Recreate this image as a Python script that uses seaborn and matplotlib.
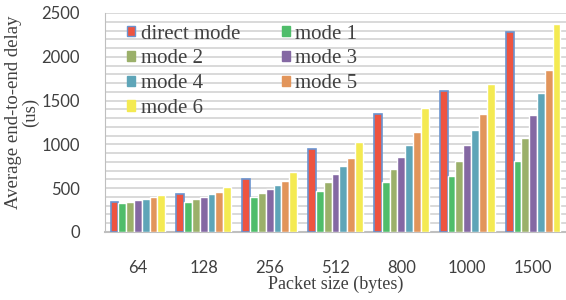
import numpy as np
import pandas as pd
import seaborn as sns
from matplotlib import pyplot as plt
from matplotlib.patches import Patch

# data
sizes = ['64', '128', '256', '512', '800', '1000', '1500']
modes = ['direct mode', 'mode 1', 'mode 2', 'mode 3', 'mode 4', 'mode 5', 'mode 6']
direct_mode = [345, 436, 607, 952, 1343, 1608, 2280]
mode_1 = [330, 341, 394, 470, 573, 644, 811]
mode_2 = [345, 376, 444, 569, 717, 811, 1077]
mode_3 = [360, 402, 490, 660, 854, 990, 1335]
mode_4 = [376, 432, 542, 755, 994, 1165, 1586]
mode_5 = [398, 459, 584, 846, 1138, 1343, 1851]
mode_6 = [425, 512, 686, 1032, 1419, 1688, 2371]

colors = ['#EE5440', '#4FBD6A', '#9BB06A', '#8468A3', '#5EA5B8', '#E2955B', '#F4EA52']

series = [direct_mode, mode_1, mode_2, mode_3, mode_4, mode_5, mode_6]
df = pd.DataFrame({
    'size': np.tile(sizes, len(modes)),
    'mode': np.repeat(modes, len(sizes)),
    'delay': np.concatenate(series),
})

sns.set_style('white')
plt.rcParams['font.family'] = ['Liberation Serif', 'DejaVu Serif']

fig = plt.figure(figsize=(5.66, 3.0), dpi=100)
ax = fig.add_axes([0.1855, 0.2267, 0.8145, 0.73])

sns.barplot(data=df, x='size', y='delay', hue='mode', order=sizes, hue_order=modes,
            palette=colors, width=0.83, saturation=1, legend=False, ax=ax, zorder=3)

# direct mode bars get the blue outline
for bar in ax.containers[0]:
    bar.set_edgecolor('#6A93CF')
    bar.set_linewidth(1.2)

ax.set_ylim(0, 2500)
ax.set_xlim(-0.5, 6.5)
ax.set_yticks(np.arange(0, 2501, 500))
ax.set_yticks(np.arange(0, 2501, 100), minor=True)
ax.grid(axis='y', which='both', color='#D3D3D3', linewidth=1.2, zorder=0)
ax.set_axisbelow(True)

for s in ['top', 'right']:
    ax.spines[s].set_visible(False)
ax.spines['left'].set_color('#BFBFBF')
ax.spines['bottom'].set_color('#BFBFBF')
ax.spines['bottom'].set_linewidth(1.5)

ax.tick_params(axis='y', which='major', length=5, color='#BFBFBF', pad=13)
ax.tick_params(axis='y', which='minor', length=0)
ax.tick_params(axis='x', length=0, pad=20)
for lab in ax.get_xticklabels() + ax.get_yticklabels():
    lab.set_fontfamily('Lato')
    lab.set_fontsize(12)
    lab.set_color('#404040')

ax.set_xlabel('Packet size (bytes)', fontsize=13, color='#404040')
ax.xaxis.set_label_coords(0.5, -0.2)
ax.set_ylabel('Average end-to-end delay\n(us)', fontsize=13.5, color='#404040',
              linespacing=0.95)
ax.yaxis.set_label_coords(-0.143, 0.548)

# legend filled row by row like the reference (two columns)
order = [0, 2, 4, 6, 1, 3, 5]
handles = [Patch(facecolor=colors[i], edgecolor=('#6A93CF' if i == 0 else colors[i]),
                 linewidth=1.0) for i in order]
ax.legend(handles, [modes[i] for i in order], ncol=2, loc='upper left',
          bbox_to_anchor=(0.03, 0.985), frameon=False, fontsize=15,
          handlelength=0.4, handleheight=0.4, handletextpad=0.25,
          columnspacing=2.0, labelspacing=0.28, borderaxespad=0,
          labelcolor='#404040')

fig.savefig('out.png', dpi=100)
